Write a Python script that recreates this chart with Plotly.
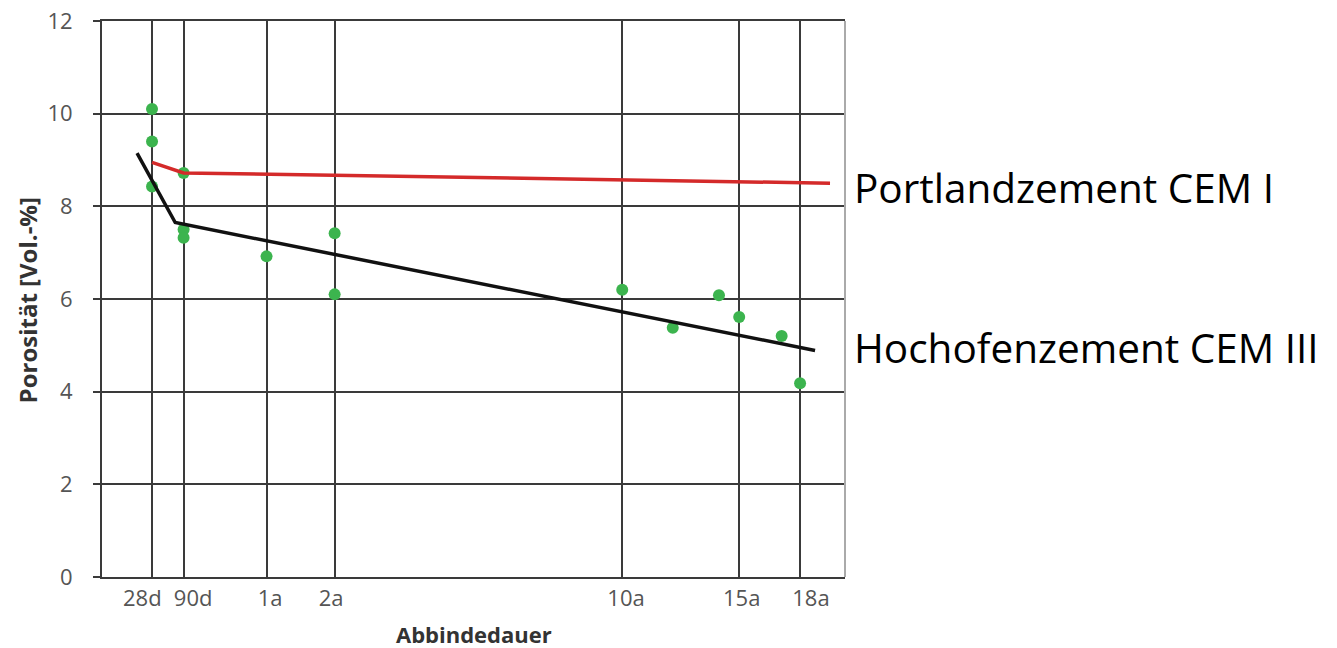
import plotly.graph_objects as go

# Axis positions (square-root-of-years scale)
tick_labels = ["28d", "90d", "1a", "2a", "10a", "15a", "18a"]
grid_pos = [0.304, 0.496, 1.0, 1.414, 3.162, 3.873, 4.243]    # vertical grid lines
label_pos = [0.245, 0.554, 1.022, 1.393, 3.185, 3.888, 4.309]  # where the labels sit

# Measured porosity points (green)
pts_x = [0.304, 0.304, 0.304, 0.496, 0.496, 0.496, 1.0, 1.414, 1.414,
         3.162, 3.469, 3.750, 3.873, 4.131, 4.243]
pts_y = [10.1, 9.4, 8.43, 8.72, 7.5, 7.32, 6.92, 7.42, 6.1,
         6.2, 5.38, 6.08, 5.61, 5.2, 4.18]

# Trend line Portlandzement CEM I (red)
red_x = [0.304, 0.496, 4.425]
red_y = [8.95, 8.72, 8.5]

# Trend line Hochofenzement CEM III (black)
blk_x = [0.213, 0.445, 4.334]
blk_y = [9.15, 7.65, 4.89]

y_ticks = [0, 2, 4, 6, 8, 10, 12]
y_labels = ["0", "2", "4", "6", "8", "10", "12"]

grid_col = "#3a3a3a"
tick_font = dict(family="Open Sans, sans-serif", size=22, color="#555555")
X_RANGE = [0, 4.516]

fig = go.Figure()
fig.add_trace(go.Scatter(x=pts_x, y=pts_y, mode="markers",
                         marker=dict(size=12, color="#3cb44e"),
                         showlegend=False, hoverinfo="x+y"))
fig.add_trace(go.Scatter(x=red_x, y=red_y, mode="lines",
                         line=dict(color="#d42a2a", width=3.5),
                         showlegend=False))
fig.add_trace(go.Scatter(x=blk_x, y=blk_y, mode="lines",
                         line=dict(color="#111111", width=3.5),
                         showlegend=False))
# invisible trace to activate the label axis
fig.add_trace(go.Scatter(x=[label_pos[0]], y=[0], xaxis="x2", mode="markers",
                         marker=dict(opacity=0), showlegend=False,
                         hoverinfo="skip"))

fig.update_layout(
    width=1337, height=648,
    margin=dict(l=102, r=492, t=21, b=71),
    paper_bgcolor="white", plot_bgcolor="white",
    showlegend=False,
    xaxis=dict(range=X_RANGE, tickmode="array", tickvals=grid_pos,
               showticklabels=False, showgrid=True, gridcolor=grid_col,
               gridwidth=1.5, zeroline=False, showline=True, mirror=True,
               linecolor=grid_col, linewidth=2, ticks="", automargin=False),
    xaxis2=dict(range=X_RANGE, overlaying="x", side="bottom",
                tickmode="array", tickvals=label_pos, ticktext=tick_labels,
                showgrid=False, zeroline=False, showline=False, ticks="",
                tickangle=0, automargin=False, ticklabelstandoff=6,
                tickfont=tick_font),
    yaxis=dict(range=[0, 12], tickmode="array", tickvals=y_ticks,
               ticktext=y_labels,
               showgrid=True, gridcolor=grid_col, automargin=False,
               gridwidth=1.5, zeroline=False, showline=True,
               linecolor=grid_col, linewidth=2, ticks="outside",
               ticklen=7, tickcolor=grid_col, tickwidth=1.5,
               ticklabelstandoff=16, tickfont=tick_font),
    shapes=[dict(type="line", xref="paper", yref="paper", x0=1, x1=1,
                 y0=0, y1=1, line=dict(color="#aaaaaa", width=2))],
    annotations=[
        dict(text="<b>Abbindedauer</b>", xref="paper", yref="paper",
             x=0.5, y=-0.1025, yanchor="middle", showarrow=False,
             font=dict(family="Open Sans, sans-serif", size=22, color="#333333")),
        dict(text="<b>Porosität [Vol.-%]</b>", xref="paper", yref="paper",
             x=-0.1005, y=0.498, textangle=-90, xanchor="center", yanchor="middle",
             showarrow=False,
             font=dict(family="Open Sans, sans-serif", size=24, color="#333333")),
        dict(text="Portlandzement CEM I", xref="paper", yref="paper",
             x=1.0094, y=0.701, xanchor="left", yanchor="middle", showarrow=False,
             font=dict(family="Open Sans, sans-serif", size=40.5, color="black")),
        dict(text="Hochofenzement CEM III", xref="paper", yref="paper",
             x=1.0094, y=0.412, xanchor="left", yanchor="middle", showarrow=False,
             font=dict(family="Open Sans, sans-serif", size=40.5, color="black")),
    ],
)

fig.write_html("out.html", config={"displayModeBar": False},
               post_script="document.body.style.margin='0px';")
